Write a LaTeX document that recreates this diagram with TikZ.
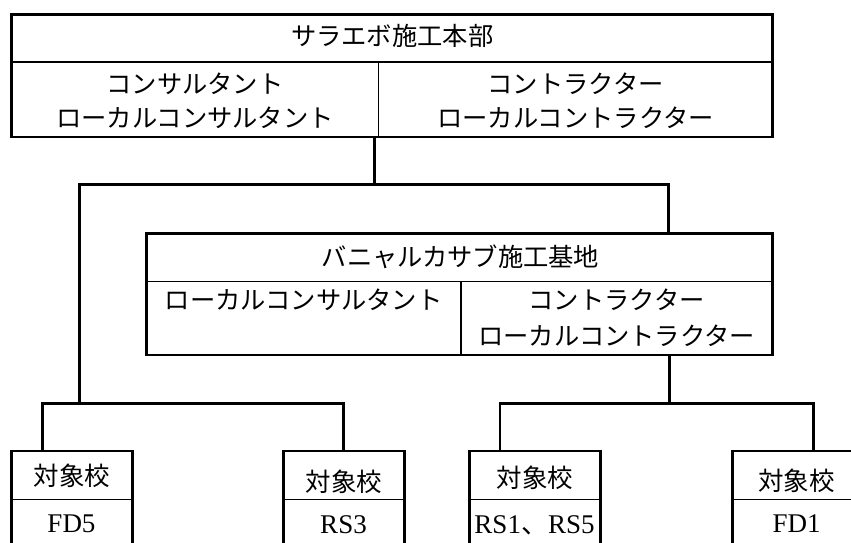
\documentclass[tikz,border=0pt]{standalone}
\usepackage{fontspec}
\setmainfont{Liberation Serif}
\newfontfamily\jp{Noto Sans CJK JP}
\usetikzlibrary{fit}
\begin{document}
\begin{tikzpicture}[x=1pt,y=-1pt,
  cell/.style={draw, line width=1.7pt, inner sep=0pt, outer sep=0pt},
  frame/.style={draw, line width=2.9pt, inner sep=0pt, outer sep=0pt},
  conn/.style={line width=2.9pt, line join=miter},
  jt/.style={font=\jp\fontsize{25.3}{30}\selectfont, anchor=base, inner sep=0pt},
  jb/.style={font=\jp\fontsize{25.5}{30}\selectfont, anchor=base, inner sep=0pt},
  rt/.style={font=\fontsize{27}{32}\selectfont, anchor=base, inner sep=0pt}]
\useasboundingbox (0,0) rectangle (851,543);
\clip (0,0) rectangle (851,543);

% ---- headquarters box
\node[cell, fit={(11.5,14.7) (772.8,62.3)}] (hqT) {};
\node[cell, fit={(11.5,62.3) (378.5,137)}] (hqL) {};
\node[cell, fit={(378.5,62.3) (772.8,137)}] (hqR) {};
\node[frame, fit={(11.5,14.7) (772.8,137)}] (hq) {};
\node[jt] (hqTt) at (392.2,45.5) {サラエボ施工本部};
\node[jt] (hqL1) at (195,93.3) {コンサルタント};
\node[jt] (hqL2) at (195,127) {ローカルコンサルタント};
\node[jt] (hqR1) at (575.6,93.3) {コントラクター};
\node[jt] (hqR2) at (575.6,127) {ローカルコントラクター};

% ---- base box
\node[cell, fit={(146.7,233.3) (772.8,281.5)}] (bsT) {};
\node[cell, fit={(146.7,281.5) (460.7,355)}] (bsL) {};
\node[cell, fit={(460.7,281.5) (772.8,355)}] (bsR) {};
\node[frame, fit={(146.7,233.3) (772.8,355)}] (bs) {};
\node[jt] (bsTt) at (460.5,266.5) {バニャルカサブ施工基地};
\node[jt] (bsL1) at (303.7,309) {ローカルコンサルタント};
\node[jt] (bsR1) at (616.7,309) {コントラクター};
\node[jt] (bsR2) at (616.7,345.8) {ローカルコントラクター};

% ---- school boxes
\node[cell, fit={(11.7,451) (132.3,499.5)}] (s1T) {};
\node[frame, fit={(11.7,451) (132.3,560)}] (s1) {};
\node[cell, fit={(283.3,451) (404.3,499.5)}] (s2T) {};
\node[frame, fit={(283.3,451) (404.3,560)}] (s2) {};
\node[cell, fit={(469.3,451) (600.7,499.5)}] (s3T) {};
\node[frame, fit={(469.3,451) (600.7,560)}] (s3) {};
\node[cell, fit={(732.3,451) (861,499.5)}] (s4T) {};
\node[frame, fit={(732.3,451) (861,560)}] (s4) {};

\node[jb] (s1h) at (72,485.5) {対象校};
\node[jb] (s2h) at (343.8,491) {対象校};
\node[jb] (s3h) at (535,487) {対象校};
\node[jb] (s4h) at (796.6,490.5) {対象校};
\node[rt] (s1v) at (71.5,532.7) {FD5};
\node[rt] (s2v) at (343.5,533) {RS3};
\node[rt] (s3v) at (534.5,533) {RS1{\jp 、}RS5};
\node[rt] (s4v) at (796.6,532.7) {FD1};

% ---- connectors
\coordinate (j1) at (374.5,184.5);
\coordinate (j1l) at (79.5,184.5);
\coordinate (j1r) at (668.7,184.5);
\coordinate (j2) at (79.5,403.5);
\coordinate (j2l) at (42.3,403.5);
\coordinate (j2r) at (343.5,403.5);
\coordinate (j3) at (669.2,403.5);
\coordinate (j3l) at (500,403.5);
\coordinate (j3r) at (813.3,403.5);

\draw[conn] (hq.south -| j1) -- (j1);
\draw[conn] (j2) -- (j1l) -- (j1r) -- (j1r |- bs.north);
\draw[conn] (j2l |- s1.north) -- (j2l) -- (j2r) -- (j2r |- s2.north);
\draw[conn] (bs.south -| j3) -- (j3);
\draw[conn] (j3l |- s3.north) -- (j3l) -- (j3r) -- (j3r |- s4.north);
\end{tikzpicture}
\end{document}
